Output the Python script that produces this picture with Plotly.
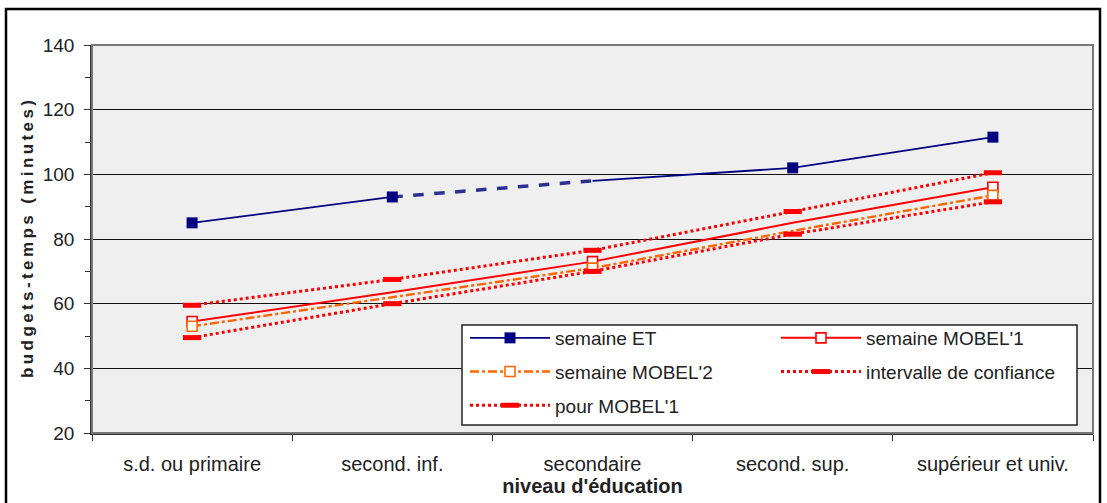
import plotly.graph_objects as go

# Niveau d'éducation (catégories de l'axe X)
niveaux = ["s.d. ou primaire", "second. inf.", "secondaire", "second. sup.", "supérieur et univ."]

# Budgets-temps (minutes) par niveau d'éducation
semaine_et = [85, 93, 98, 102, 111.5]
semaine_mobel1 = [54.5, 63.5, 73, 85, 96]
semaine_mobel2 = [53, 62, 71, 82.5, 93.5]
ic_haut = [59.5, 67.5, 76.5, 88.5, 100.5]
ic_bas = [49.5, 60, 70, 81.5, 91.5]

y_ticks = [20, 40, 60, 80, 100, 120, 140]

W, H = 1107, 503
L, R, T, B = 92, 1093, 45, 433  # zone de tracé en pixels

NAVY = "#000080"
RED = "#FF0000"
ORANGE = "#FF6600"
TXT = "#222222"
NONE = "rgba(0,0,0,0)"
FONT = "Liberation Sans"


def px_x(p):
    return (p - L) / (R - L)


def px_y(p):
    return (B - p) / (B - T)


def espacer(texte, sep="\u2009"):
    """Insère une fine espace entre chaque caractère (titre espacé)."""
    return sep.join(texte)


fig = go.Figure()

# semaine ET : trait plein, sauf le segment second. inf. -> secondaire (tireté)
x_et = niveaux[:2] + [None] + niveaux[2:]
y_et = semaine_et[:2] + [None] + semaine_et[2:]
col_et = [NAVY, NAVY, NAVY, NONE, NAVY, NAVY]
fig.add_trace(go.Scatter(
    x=niveaux[1:3], y=semaine_et[1:3], mode="lines",
    line=dict(color="#2B2F8F", width=3.5, dash="dash"),
    showlegend=False, hoverinfo="skip"))
fig.add_trace(go.Scatter(
    x=x_et, y=y_et, mode="lines+markers", name="semaine ET",
    line=dict(color=NAVY, width=1.8),
    marker=dict(symbol="square", size=11, color=col_et),
    connectgaps=False, legend="legend", legendgroup="g1"))

# marqueurs des séries MOBEL visibles aux niveaux 1, 3 et 5
visible = [True, False, True, False, True]
fond = ["white" if v else NONE for v in visible]

# semaine MOBEL'1
fig.add_trace(go.Scatter(
    x=niveaux, y=semaine_mobel1, mode="lines+markers", name="semaine MOBEL'1",
    line=dict(color=RED, width=2),
    marker=dict(symbol="square", size=10, color=fond,
                line=dict(color=[RED if v else NONE for v in visible], width=1.6)),
    legend="legend2", legendgroup="g2"))

# semaine MOBEL'2
fig.add_trace(go.Scatter(
    x=niveaux, y=semaine_mobel2, mode="lines+markers", name="semaine MOBEL'2",
    line=dict(color=ORANGE, width=2.4, dash="dashdot"),
    marker=dict(symbol="square", size=10, color=fond,
                line=dict(color=[ORANGE if v else NONE for v in visible], width=1.6)),
    legend="legend", legendgroup="g3"))

# intervalle de confiance pour MOBEL'1 (bornes haute et basse)
for vals, nom, leg, grp in ((ic_haut, "intervalle de confiance", "legend2", "g4"),
                            (ic_bas, "pour MOBEL'1", "legend", "g5")):
    fig.add_trace(go.Scatter(
        x=niveaux, y=vals, mode="lines+markers", name=nom,
        line=dict(color=RED, width=3, dash="dot"),
        marker=dict(symbol="line-ew", size=13, color=RED,
                    line=dict(color=RED, width=5)),
        legend=leg, legendgroup=grp))

# cadre extérieur du graphique
fig.add_shape(type="rect", xref="paper", yref="paper",
              x0=px_x(6), x1=px_x(1100), y0=px_y(520), y1=px_y(9),
              line=dict(color="black", width=2.5), layer="above")

# bordure de la zone de tracé
fig.add_shape(type="rect", xref="paper", yref="paper", x0=0, x1=1, y0=0, y1=1,
              line=dict(color="#777777", width=2), layer="above")

# cadre blanc de la légende
fig.add_shape(type="rect", xref="paper", yref="paper",
              x0=px_x(462), x1=px_x(1077), y0=px_y(425), y1=px_y(325),
              line=dict(color="#222222", width=1.5), fillcolor="white", layer="above")

legend_common = dict(
    orientation="v", xanchor="left", yanchor="top",
    bgcolor="rgba(0,0,0,0)", borderwidth=0, itemwidth=80,
    traceorder="grouped", tracegroupgap=6,
    font=dict(family=FONT, size=19, color=TXT),
)

fig.update_layout(
    width=W, height=H,
    margin=dict(l=L, r=W - R, t=T, b=H - B, autoexpand=False),
    paper_bgcolor="white",
    plot_bgcolor="#EFEFEF",
    font=dict(family=FONT, size=19, color=TXT),
    xaxis=dict(
        type="category", categoryorder="array", categoryarray=niveaux,
        range=[-0.5, len(niveaux) - 0.5], automargin=False,
        tickson="boundaries", ticks="outside", ticklen=6, tickcolor="#333333",
        showgrid=False, showline=True, linecolor="#333333", linewidth=2,
        ticklabelstandoff=12,
        tickfont=dict(family=FONT, size=20, color=TXT),
        title=dict(text="<b>niveau d'éducation</b>", standoff=4,
                   font=dict(family=FONT, size=20, color=TXT)),
        zeroline=False,
    ),
    yaxis=dict(
        range=[20, 140], tickvals=y_ticks, ticks="outside", ticklen=6,
        tickcolor="#333333", showline=True, linecolor="#333333", linewidth=1.5,
        gridcolor="#111111", gridwidth=1, zeroline=False, automargin=False,
        ticklabelstandoff=6,
        minor=dict(dtick=10, ticks="outside", ticklen=5, tickcolor="#333333",
                   showgrid=False),
        tickfont=dict(family=FONT, size=19, color=TXT),
        title=dict(text="<b>" + espacer("budgets-temps (minutes)") + "</b>",
                   standoff=5,
                   font=dict(family=FONT, size=17, color=TXT)),
    ),
    legend=dict(x=px_x(465), y=px_y(319), **legend_common),
    legend2=dict(x=px_x(776), y=px_y(319), **legend_common),
    showlegend=True,
)

fig.write_html("out.html")
